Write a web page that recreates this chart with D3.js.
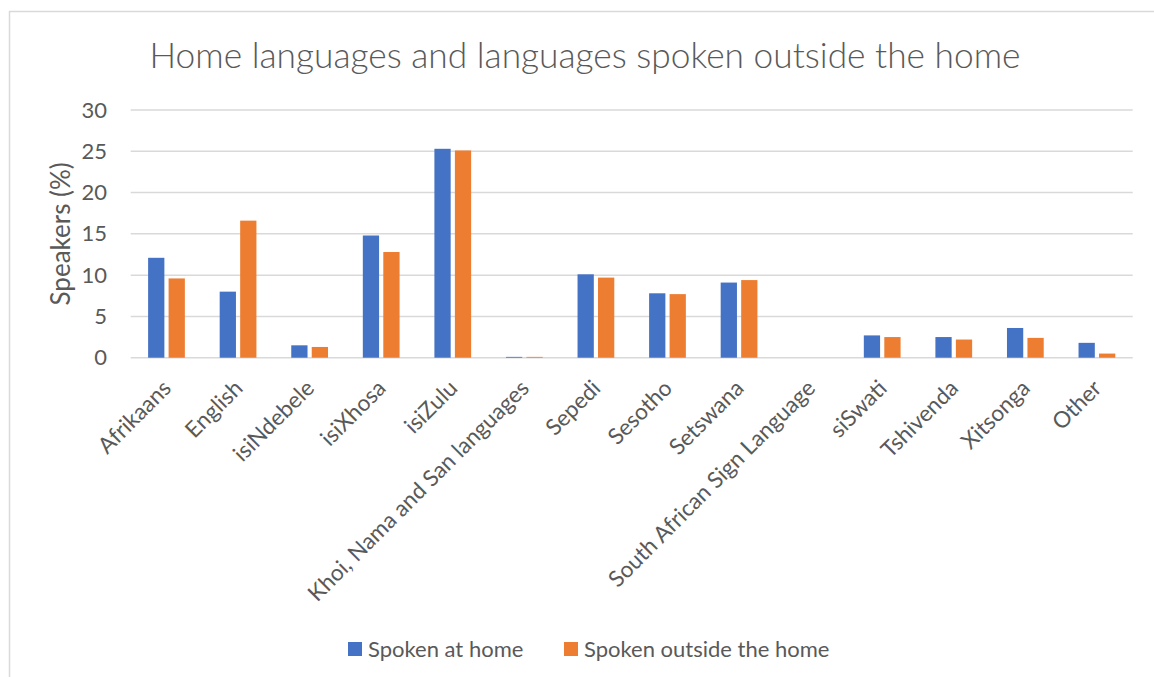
<!DOCTYPE html>
<html>
<head>
<meta charset="utf-8">
<script src="https://cdn.jsdelivr.net/npm/d3@7"></script>
<style>
  html, body { margin: 0; padding: 0; background: #fff; }
  svg { display: block; }
  text { font-family: Lato, "Open Sans", sans-serif; fill: #595959; }
</style>
</head>
<body>
<svg id="chart" width="1154" height="677"></svg>
<script>
// Languages shown along the category axis
const categories = [
  "Afrikaans", "English", "isiNdebele", "isiXhosa", "isiZulu",
  "Khoi, Nama and San languages", "Sepedi", "Sesotho", "Setswana",
  "South African Sign Language", "siSwati", "Tshivenda", "Xitsonga", "Other"
];
// Share of speakers (%) per language
const spokenAtHome      = [12.1, 8.0, 1.5, 14.8, 25.3, 0.1, 10.1, 7.8, 9.1, 0, 2.7, 2.5, 3.6, 1.8];
const spokenOutsideHome = [9.6, 16.6, 1.3, 12.8, 25.1, 0.1, 9.7, 7.7, 9.4, 0, 2.5, 2.2, 2.4, 0.5];
const seriesNames = ["Spoken at home", "Spoken outside the home"];
const seriesColors = ["#4472C4", "#ED7D31"];
const yTicks = [0, 5, 10, 15, 20, 25, 30];

const chartTitle = "Home languages and languages spoken outside the home";
const yTitle = "Speakers (%)";

const svg = d3.select("#chart");

// outer chart frame
svg.append("rect")
  .attr("x", 9.5).attr("y", 11.5)
  .attr("width", 1160).attr("height", 700)
  .attr("fill", "#fff").attr("stroke", "#d9d9d9").attr("stroke-width", 1.5);

const plot = { left: 130.7, right: 1132.7, top: 110, bottom: 357.7 };

const x0 = d3.scaleBand().domain(categories).range([plot.left, plot.right]).padding(0);
const x1 = d3.scaleBand().domain(seriesNames).range([0, x0.bandwidth()])
  .paddingInner(0.206).paddingOuter(0.85);
const y = d3.scaleLinear().domain([0, 30]).range([plot.bottom, plot.top]);

// horizontal gridlines
svg.append("g").selectAll("line").data(yTicks).join("line")
  .attr("x1", plot.left).attr("x2", plot.right)
  .attr("y1", d => y(d)).attr("y2", d => y(d))
  .attr("stroke", "#d9d9d9").attr("stroke-width", 1.5);

// y axis labels
const yAxis = d3.axisLeft(y).tickValues(yTicks).tickSize(0).tickPadding(0);
const gy = svg.append("g").attr("transform", "translate(107,0)").call(yAxis);
gy.select(".domain").remove();
gy.selectAll("text")
  .style("font-family", "Lato, sans-serif").style("font-size", "22px")
  .attr("fill", "#595959");

// y axis title
svg.append("text")
  .attr("transform", `translate(70,${(plot.top + plot.bottom) / 2}) rotate(-90)`)
  .attr("text-anchor", "middle")
  .style("font-size", "26px")
  .text(yTitle);

// bars
const rows = categories.map((c, i) => ({ c, vals: [spokenAtHome[i], spokenOutsideHome[i]] }));
const groups = svg.append("g").selectAll("g").data(rows).join("g")
  .attr("transform", d => `translate(${x0(d.c)},0)`);
groups.selectAll("rect")
  .data(d => d.vals.map((v, k) => ({ v, k })))
  .join("rect")
  .attr("x", d => x1(seriesNames[d.k]))
  .attr("width", x1.bandwidth())
  .attr("y", d => y(d.v))
  .attr("height", d => y(0) - y(d.v))
  .attr("fill", d => seriesColors[d.k]);

// category labels, rotated
const xAxis = d3.axisBottom(x0).tickSize(0).tickPadding(0);
const gx = svg.append("g").attr("transform", `translate(0,${plot.bottom})`).call(xAxis);
gx.select(".domain").remove();
gx.selectAll("text")
  .style("font-family", "Lato, sans-serif").style("font-size", "22.5px")
  .attr("fill", "#595959")
  .attr("text-anchor", "end")
  .attr("dy", null).attr("y", null)
  .attr("transform", "translate(6,32) rotate(-45)");

// title
svg.append("text")
  .attr("x", 585).attr("y", 68)
  .attr("text-anchor", "middle")
  .style("font-size", "35.3px").style("font-weight", 300)
  .text(chartTitle);

// legend
const legend = svg.append("g");
const legendX = [348, 564];
seriesNames.forEach((name, k) => {
  legend.append("rect")
    .attr("x", legendX[k]).attr("y", 642)
    .attr("width", 14).attr("height", 14)
    .attr("fill", seriesColors[k]);
  legend.append("text")
    .attr("x", legendX[k] + 20).attr("y", 657)
    .style("font-size", "22px")
    .text(name);
});
</script>
</body>
</html>
